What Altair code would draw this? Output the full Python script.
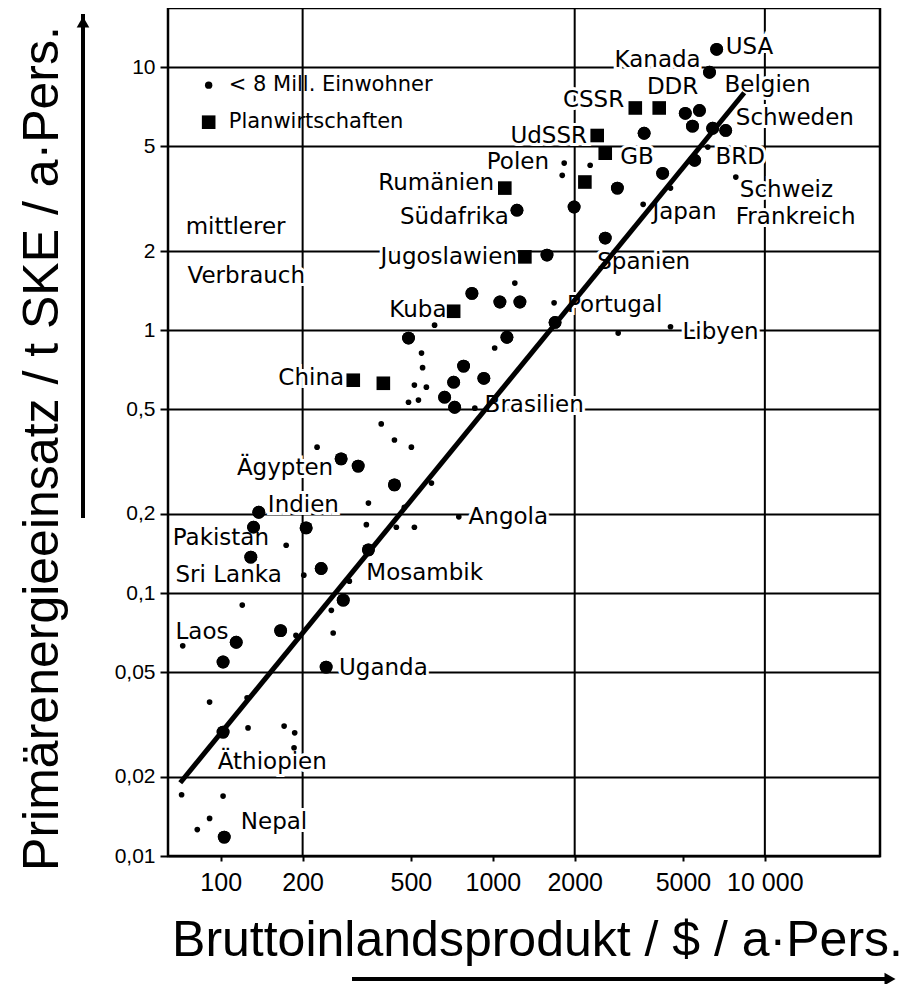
import altair as alt
import pandas as pd

# ---------------- data ----------------
# large dots (countries > 8 Mill. inhabitants)
big_x = [6650, 6260, 5100, 5750, 5420, 6430, 7180, 5520, 3600, 2870, 4210, 1990, 1227, 1582,
         2590, 838, 1062, 1258, 1694, 490, 1127, 781, 718, 665, 927, 724, 277, 320, 435, 138,
         132, 129, 206, 349, 234, 282, 166, 114, 102, 244, 102, 103]
big_y = [11.7, 9.57, 6.68, 6.85, 5.97, 5.86, 5.75, 4.43, 5.61, 3.47, 3.95, 2.94, 2.86, 1.93,
         2.24, 1.38, 1.28, 1.28, 1.07, 0.933, 0.94, 0.73, 0.634, 0.556, 0.656, 0.509, 0.324,
         0.304, 0.258, 0.203, 0.178, 0.137, 0.177, 0.146, 0.124, 0.094, 0.072, 0.065, 0.0547,
         0.0523, 0.0296, 0.0118]

# small dots (< 8 Mill. inhabitants)
small_x = [6170, 4500, 3570, 7820, 1830, 1800, 2280, 1205, 1680, 611, 4500, 2890, 547, 552,
           515, 570, 490, 533, 1016, 859, 389, 435, 502, 226, 595, 750, 349, 473, 343, 442,
           515, 174, 202, 297, 255, 120, 189, 259, 72.5, 91, 125, 126, 171, 187, 186, 71.8,
           102, 91, 82]
small_y = [4.97, 3.47, 3.01, 3.82, 4.32, 3.88, 4.24, 1.51, 1.27, 1.045, 1.03, 0.975, 0.818,
           0.72, 0.618, 0.607, 0.532, 0.542, 0.855, 0.505, 0.44, 0.382, 0.359, 0.359, 0.262,
           0.195, 0.22, 0.212, 0.182, 0.178, 0.178, 0.152, 0.117, 0.111, 0.086, 0.09, 0.069,
           0.0705, 0.063, 0.0385, 0.040, 0.0307, 0.0312, 0.0294, 0.0258, 0.0171, 0.0169,
           0.0139, 0.0126]

# squares (Planwirtschaften)
sq_x = [3340, 4090, 2420, 2590, 2180, 1107, 1312, 718, 307, 396]
sq_y = [7.0, 7.0, 5.5, 4.71, 3.66, 3.47, 1.90, 1.18, 0.645, 0.628]

# regression line
reg_x = [71, 8400]
reg_y = [0.019, 8.0]

# country labels
lab_text = ["USA", "Kanada", "DDR", "Belgien", "CSSR", "Schweden", "UdSSR", "Polen", "GB",
            "BRD", "Rumänien", "Schweiz", "Südafrika", "Japan", "Frankreich", "Jugoslawien",
            "Spanien", "Kuba", "Portugal", "Libyen", "China", "Brasilien", "Ägypten", "Indien",
            "Angola", "Pakistan", "Sri Lanka", "Mosambik", "Laos", "Uganda", "Äthiopien",
            "Nepal", "mittlerer", "Verbrauch"]
lab_x = [7180, 5810, 4580, 7110, 3040, 7820, 2220, 1610, 2940, 6590, 1010, 8090, 1145, 3860,
         7820, 1227, 2420, 676, 1875, 4980, 284, 933, 259, 149, 815, 66.6, 68.2, 343, 68.2,
         272, 97.5, 118.5, 74.3, 75.5]
lab_y = [11.9, 10.7, 8.4, 8.55, 7.5, 6.4, 5.5, 4.35, 4.55, 4.55, 3.62, 3.40, 2.69, 2.81, 2.69,
         1.90, 1.82, 1.19, 1.245, 0.98, 0.656, 0.519, 0.299, 0.216, 0.195, 0.162, 0.117, 0.119,
         0.0711, 0.0519, 0.0228, 0.0135, 2.47, 1.60]
lab_align = ["left", "right", "center", "left", "right", "left", "right", "right", "left",
             "left", "right", "left", "right", "left", "left", "right", "left", "right", "left",
             "left", "right", "left", "right", "left", "left", "left", "left", "left", "left",
             "left", "left", "left", "left", "left"]

# legend
leg_text = ["< 8 Mill. Einwohner", "Planwirtschaften"]
leg_kind = ["small", "square"]
leg_mx = [90.3, 90.3]
leg_tx = [107, 107]
leg_y = [8.55, 6.18]

# axes
xtick_values = [100, 200, 500, 1000, 2000, 5000, 10000]
xtick_labels = ["100", "200", "500", "1000", "2000", "5000", "10 000"]
ytick_values = [0.01, 0.02, 0.05, 0.1, 0.2, 0.5, 1, 2, 5, 10]
ytick_labels = ["0,01", "0,02", "0,05", "0,1", "0,2", "0,5", "1", "2", "5", "10"]
xgrid_values = [200, 2000, 10000]
x_domain = [64, 26500]
y_domain = [0.01, 16.8]
x_title = "Bruttoinlandsprodukt / $ / a·Pers."
y_title = "Primärenergieeinsatz / t SKE / a·Pers."

# ---------------- build ----------------
AXF = "Liberation Sans"
LABF = "DejaVu Sans"


def label_expr(values, labels):
    expr = "''"
    for v, l in reversed(list(zip(values, labels))):
        expr = f"datum.value == {v} ? '{l}' : ({expr})"
    return expr


xs = alt.Scale(type="log", domain=x_domain, nice=False)
ys = alt.Scale(type="log", domain=y_domain, nice=False)

x_axis = alt.Axis(values=xtick_values, labelExpr=label_expr(xtick_values, xtick_labels),
                  grid=False, domain=False, ticks=True, tickSize=5, tickWidth=2,
                  tickColor="black", labelFont=AXF, labelFontSize=25, labelColor="black",
                  labelPadding=9, labelFlush=False, labelOverlap=False,
                  title=x_title, titleFont=AXF, titleFontSize=50, titleFontWeight="normal",
                  titleColor="black", titleX=369, titleY=84, titleBaseline="middle",
                  titleAlign="center")
y_axis = alt.Axis(values=ytick_values, labelExpr=label_expr(ytick_values, ytick_labels),
                  grid=True, gridColor="black", gridWidth=2, gridOpacity=1,
                  domain=False, ticks=True, tickSize=8, tickWidth=2, tickColor="black",
                  labelFont=AXF, labelFontSize=21, labelColor="black", labelPadding=5,
                  labelFlush=False, labelOverlap=False,
                  title=y_title, titleFont=AXF, titleFontSize=50, titleFontWeight="normal",
                  titleColor="black", titleAngle=270, titleX=-126, titleY=440,
                  titleBaseline="middle", titleAlign="center")


def X(field):
    return alt.X(field, scale=xs, axis=x_axis)


def Y(field):
    return alt.Y(field, scale=ys, axis=y_axis)


big_df = pd.DataFrame({"x": big_x, "y": big_y})
small_df = pd.DataFrame({"x": small_x, "y": small_y})
sq_df = pd.DataFrame({"x": sq_x, "y": sq_y})
reg_df = pd.DataFrame({"x": reg_x, "y": reg_y})
lab_df = pd.DataFrame({"t": lab_text, "x": lab_x, "y": lab_y, "align": lab_align})
leg_df = pd.DataFrame({"t": leg_text, "kind": leg_kind, "x": leg_mx, "tx": leg_tx, "y": leg_y})
vg_df = pd.DataFrame({"x": xgrid_values})
one = pd.DataFrame({"a": [0]})

layers = []

layers.append(alt.Chart(big_df).mark_point(filled=True, shape="circle", size=165,
                                           color="black", opacity=1).encode(
    x=X("x:Q"), y=Y("y:Q")))

layers.append(alt.Chart(vg_df).mark_rule(color="black", strokeWidth=2).encode(x=X("x:Q")))

for al in ["left", "right", "center"]:
    sub = lab_df[lab_df["align"] == al]
    layers.append(alt.Chart(sub).mark_text(font=LABF, fontSize=23, align=al, baseline="middle",
                                           stroke="white", strokeWidth=6, color="white").encode(
        x=X("x:Q"), y=Y("y:Q"), text="t:N"))

layers.append(alt.Chart(reg_df).mark_line(color="black", strokeWidth=5).encode(
    x=X("x:Q"), y=Y("y:Q")))

layers.append(alt.Chart(big_df).mark_point(filled=True, shape="circle", size=165,
                                           color="black", opacity=1).encode(
    x=X("x:Q"), y=Y("y:Q")))

layers.append(alt.Chart(sq_df).mark_point(filled=True, shape="square", size=185, color="black",
                                          opacity=1).encode(x=X("x:Q"), y=Y("y:Q")))

layers.append(alt.Chart(small_df).mark_point(filled=True, shape="circle", size=32, color="black",
                                             opacity=1).encode(x=X("x:Q"), y=Y("y:Q")))

for al in ["left", "right", "center"]:
    sub = lab_df[lab_df["align"] == al]
    layers.append(alt.Chart(sub).mark_text(font=LABF, fontSize=23, align=al, baseline="middle",
                                           color="black").encode(
        x=X("x:Q"), y=Y("y:Q"), text="t:N"))

# legend
layers.append(alt.Chart(leg_df[leg_df["kind"] == "small"]).mark_point(
    filled=True, shape="circle", size=55, color="black", opacity=1).encode(
    x=X("x:Q"), y=Y("y:Q")))
layers.append(alt.Chart(leg_df[leg_df["kind"] == "square"]).mark_point(
    filled=True, shape="square", size=185, color="black", opacity=1).encode(
    x=X("x:Q"), y=Y("y:Q")))
layers.append(alt.Chart(leg_df).mark_text(font=LABF, fontSize=21, align="left",
                                          baseline="middle", color="black").encode(
    x=X("tx:Q"), y=Y("y:Q"), text="t:N"))

# axis arrows (decoration outside the plot)
layers.append(alt.Chart(one).mark_rule(color="black", strokeWidth=4).encode(
    x=alt.value(-85), y=alt.value(6), y2=alt.value(510)))
layers.append(alt.Chart(one).mark_point(shape="triangle-up", filled=True, size=160,
                                        color="black", opacity=1).encode(
    x=alt.value(-85), y=alt.value(14)))
layers.append(alt.Chart(one).mark_rule(color="black", strokeWidth=4).encode(
    x=alt.value(184), x2=alt.value(722), y=alt.value(971)))
layers.append(alt.Chart(one).mark_point(shape="triangle-right", filled=True, size=160,
                                        color="black", opacity=1).encode(
    x=alt.value(722), y=alt.value(971)))

chart = alt.layer(*layers).properties(
    width=712, height=848,
    autosize=alt.AutoSizeParams(type="none"),
    padding={"left": 160, "top": 0, "right": 25, "bottom": 128},
    background="white",
).configure_view(stroke="black", strokeWidth=2.5)

chart.save("out.html", embed_options={"renderer": "svg", "actions": False})
